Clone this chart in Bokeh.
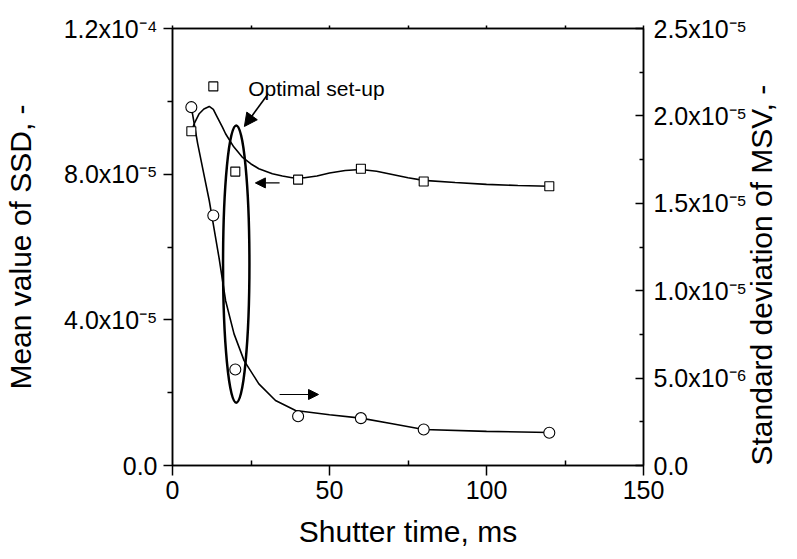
import math
from bokeh.plotting import figure
from bokeh.models import (Range1d, LinearAxis, FixedTicker, Label, Arrow, NormalHead)
from bokeh.embed import file_html
from bokeh.resources import INLINE

# ---------------- data ----------------
shutter = [6, 13, 20, 40, 60, 80, 120]
ssd_mean = [9.18e-5, 1.041e-4, 8.07e-5, 7.85e-5, 8.15e-5, 7.80e-5, 7.67e-5]
msv_std = [2.05e-5, 1.43e-5, 5.49e-6, 2.82e-6, 2.71e-6, 2.06e-6, 1.87e-6]

# fitted curves
ssd_fit_x = [6, 7, 8.5, 10, 11.7, 13, 14, 15.9, 16.9, 19.5, 22.2, 25, 27.5, 31.8,
             35, 38.1, 42, 46, 50, 55, 60, 65, 70, 75, 80, 90, 100, 110, 120]
ssd_fit_y = [9.18e-5, 9.40e-5, 9.66e-5, 9.79e-5, 9.86e-5, 9.78e-5, 9.61e-5, 9.29e-5,
             9.11e-5, 8.75e-5, 8.47e-5, 8.28e-5, 8.15e-5, 8.01e-5, 7.95e-5, 7.90e-5,
             7.90e-5, 7.95e-5, 8.03e-5, 8.10e-5, 8.13e-5, 8.08e-5, 7.99e-5, 7.90e-5,
             7.83e-5, 7.77e-5, 7.72e-5, 7.69e-5, 7.67e-5]
msv_fit_x = [6, 8, 10, 11.7, 13, 14.8, 16.9, 19.6, 22.8, 27.5, 32.8, 39.2, 50, 60,
             70, 80, 100, 120]
msv_fit_y = [2.05e-5, 1.843e-5, 1.665e-5, 1.516e-5, 1.38e-5, 1.19e-5, 9.44e-6,
             7.53e-6, 6.0e-6, 4.67e-6, 3.72e-6, 3.15e-6, 2.9e-6, 2.71e-6, 2.39e-6,
             2.06e-6, 1.95e-6, 1.89e-6]

# ticks
x_ticks = [0, 50, 100, 150]
x_minor = [25, 75, 125]
left_ticks = [0, 4e-5, 8e-5, 1.2e-4]
left_minor = [2e-5, 6e-5, 1e-4]
left_labels = ["0.0", "4.0x10⁻⁵", "8.0x10⁻⁵", "1.2x10⁻⁴"]
right_ticks = [0, 5e-6, 1e-5, 1.5e-5, 2e-5, 2.5e-5]
right_minor = [2.5e-6, 7.5e-6, 1.25e-5, 1.75e-5, 2.25e-5]
right_labels = ["0.0", "5.0x10⁻⁶", "1.0x10⁻⁵", "1.5x10⁻⁵", "2.0x10⁻⁵", "2.5x10⁻⁵"]

# annotations
ell_x, ell_y, ell_w, ell_h = 20.3, 5.53e-5, 8.4, 7.61e-5
note_text = "Optimal set-up"
note_x, note_y = 24.1, 1.034e-4
note_arrow = (30.3, 1.019e-4, 22.9, 9.31e-5)
left_arrow = (34.1, 7.76e-5, 26.4, 7.76e-5)
right_arrow = (34.1, 1.95e-5, 46.5, 1.95e-5)

FONT = "Liberation Sans"

p = figure(width=797, height=559, output_backend="svg", toolbar_location=None,
           x_range=Range1d(0, 150), y_range=Range1d(0, 1.2e-4),
           min_border_left=172, min_border_right=154, min_border_top=28,
           min_border_bottom=94)
p.extra_y_ranges = {"right": Range1d(0, 2.5e-5)}
p.grid.visible = False
p.outline_line_color = "black"
p.outline_line_width = 1.5
p.background_fill_color = "white"
p.border_fill_color = "white"

def style(ax):
    ax.axis_line_color = "black"
    ax.axis_line_width = 1.5
    ax.major_tick_line_color = "black"
    ax.minor_tick_line_color = "black"
    ax.major_tick_line_width = 1.5
    ax.minor_tick_line_width = 1.5
    ax.major_label_text_font = FONT
    ax.major_label_text_font_size = "25px"
    ax.major_label_text_color = "black"
    ax.axis_label_text_font = FONT
    ax.axis_label_text_font_size = "30px"
    ax.axis_label_text_font_style = "normal"
    ax.axis_label_text_color = "black"

xa = p.xaxis[0]
style(xa)
xa.ticker = FixedTicker(ticks=x_ticks, minor_ticks=x_minor)
xa.major_tick_out = 10
xa.major_tick_in = 0
xa.minor_tick_in = 5
xa.minor_tick_out = 0
xa.major_label_standoff = 5
xa.axis_label = "Shutter time, ms"
xa.axis_label_standoff = 13

ya = p.yaxis[0]
style(ya)
ya.ticker = FixedTicker(ticks=left_ticks, minor_ticks=left_minor)
ya.major_label_overrides = {t: s for t, s in zip(left_ticks, left_labels)}
ya.major_tick_out = 9
ya.major_tick_in = 0
ya.minor_tick_out = 5
ya.minor_tick_in = 0
ya.major_label_standoff = 6
ya.axis_label = "Mean value of SSD, -"
ya.axis_label_standoff = 24

ra = LinearAxis(y_range_name="right",
                ticker=FixedTicker(ticks=right_ticks, minor_ticks=right_minor))
style(ra)
ra.major_label_overrides = {t: s for t, s in zip(right_ticks, right_labels)}
ra.major_tick_in = 8
ra.major_tick_out = 0
ra.minor_tick_in = 4
ra.minor_tick_out = 0
ra.major_label_standoff = 10
ra.axis_label = "Standard deviation of MSV, -"
ra.axis_label_orientation = math.pi / 2
ra.axis_label_align = "start"
ra.axis_label_standoff = 12
p.add_layout(ra, "right")

ta = LinearAxis(ticker=FixedTicker(ticks=x_ticks, minor_ticks=x_minor))
style(ta)
ta.major_tick_out = 3
ta.major_tick_in = 0
ta.minor_tick_out = 3
ta.minor_tick_in = 0
ta.major_label_text_alpha = 0
ta.major_label_text_font_size = "1px"
ta.major_label_standoff = 0
p.add_layout(ta, "above")

# curves
p.line(ssd_fit_x, ssd_fit_y, line_color="black", line_width=1.6)
p.line(msv_fit_x, msv_fit_y, line_color="black", line_width=1.6, y_range_name="right")

# optimal set-up ellipse
p.ellipse(x=[ell_x], y=[ell_y], width=[ell_w], height=[ell_h], fill_color=None,
          line_color="black", line_width=2.5)

# markers
p.scatter(shutter, ssd_mean, marker="square", size=9, fill_color="white",
          line_color="black", line_width=1.1)
p.scatter(shutter, msv_std, marker="circle", size=11, fill_color="white",
          line_color="black", line_width=1.1, y_range_name="right")

# annotations
p.add_layout(Label(x=note_x, y=note_y, text=note_text, text_font=FONT,
                   text_font_size="21px", text_baseline="alphabetic",
                   text_color="black"))
for (x0, y0, x1, y1), sz, lw in [(note_arrow, 13, 1.6), (left_arrow, 10, 1.2),
                                 (right_arrow, 10, 1.2)]:
    p.add_layout(Arrow(end=NormalHead(size=sz, fill_color="black", line_color="black",
                                      line_width=1),
                       x_start=x0, y_start=y0, x_end=x1, y_end=y1,
                       line_color="black", line_width=lw))

open("out.html", "w").write(file_html(p, INLINE))
